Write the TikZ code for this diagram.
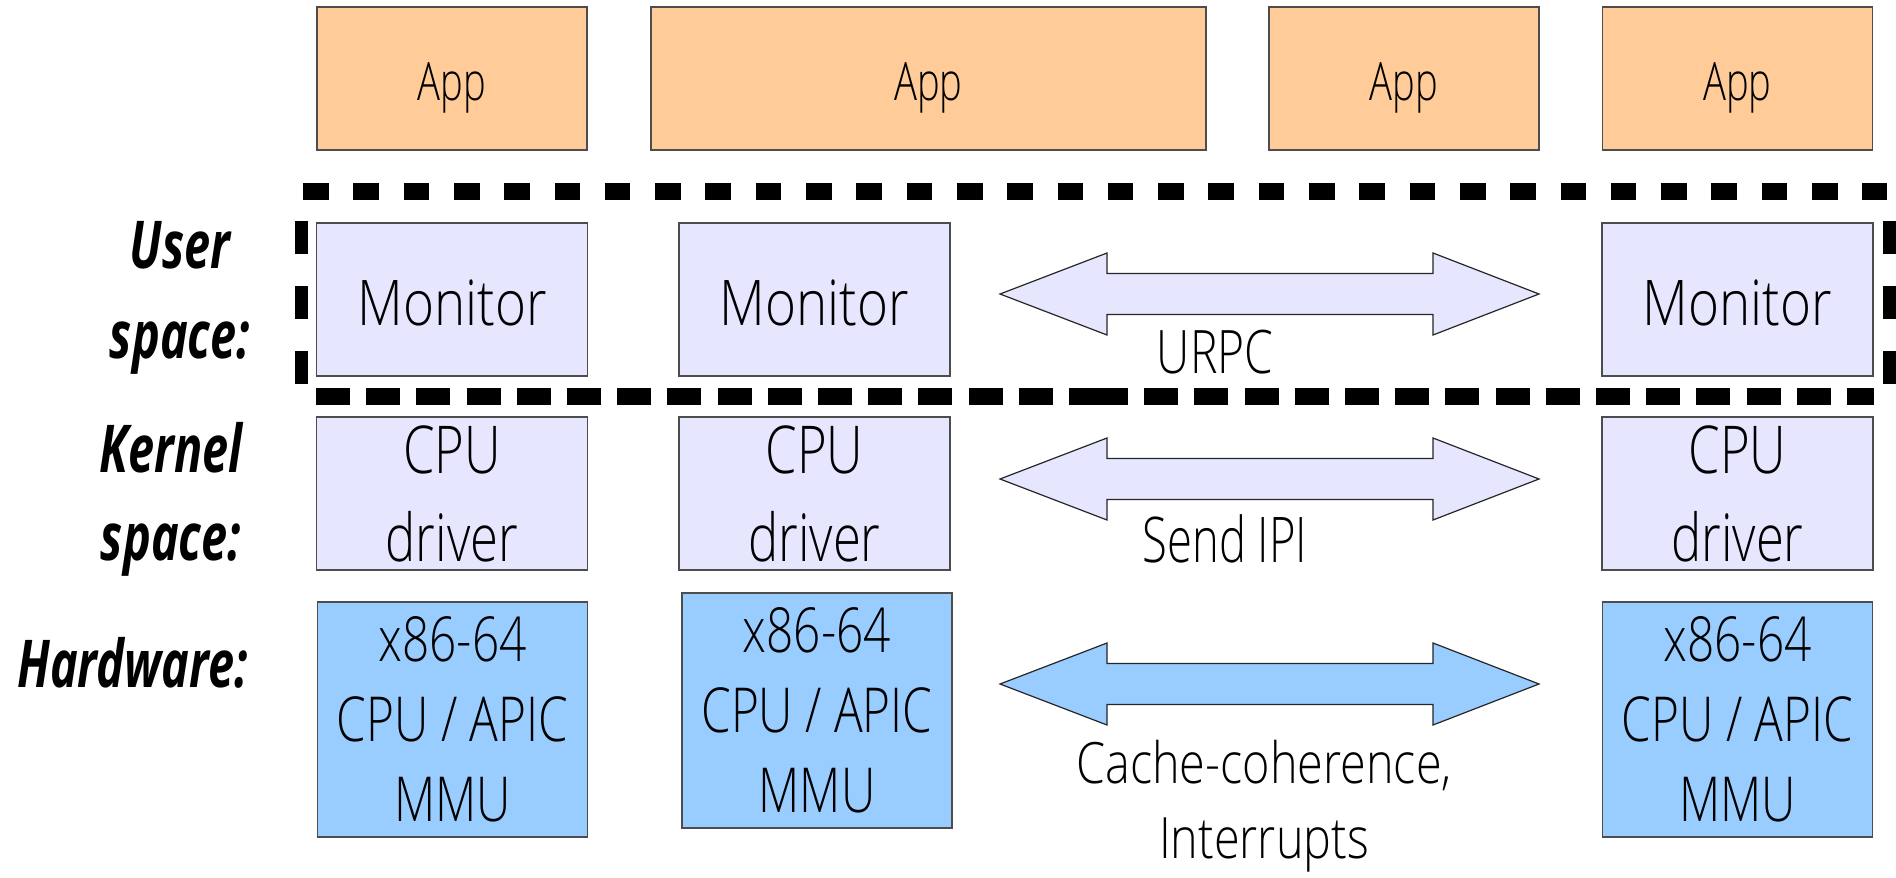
\documentclass[tikz,border=0pt]{standalone}
\usepackage{fontspec}
\setmainfont{Open Sans Light}[FakeStretch=0.77]
\newfontfamily\appfont{Open Sans Light}[FakeStretch=0.72]
\newfontfamily\monfont{Open Sans Light}[FakeStretch=0.84]
\newfontfamily\ipifont{Open Sans Light}[FakeStretch=0.72]
\newfontfamily\ccfont{Open Sans Light}[FakeStretch=0.82]
\newfontfamily\labfont{Open Sans}[FakeStretch=0.71]
\definecolor{appc}{HTML}{FFCC99}
\definecolor{monc}{HTML}{E6E6FF}
\definecolor{hwc}{HTML}{99CCFF}
\definecolor{edgec}{HTML}{4D4D4D}
\tikzset{
  box/.style={draw=edgec, line width=0.8pt, inner sep=0pt},
  appbox/.style={box, fill=appc, minimum width=135pt, minimum height=71.5pt,
    font=\appfont\fontsize{26.5}{32}\selectfont, text height=21.5pt, text depth=0pt},
  monbox/.style={box, fill=monc, minimum width=135.5pt, minimum height=76.5pt,
    font=\monfont\fontsize{31.5}{38}\selectfont, text height=25.5pt, text depth=0pt},
  cpubox/.style={box, fill=monc, align=center, minimum width=135.5pt, minimum height=76.5pt,
    font=\fontsize{33}{44}\selectfont},
  hwbox/.style={box, fill=hwc, align=center, minimum width=135pt, minimum height=117.5pt,
    font=\fontsize{31}{40}\selectfont},
  dblarrow/.style={draw=black!85, line width=0.6pt, line join=miter},
  lbl/.style={font=\labfont\bfseries\itshape\fontsize{33}{45}\selectfont, align=center, inner sep=0pt},
  arrlbl/.style={inner sep=0pt, align=center},
  hsep/.style={line width=8.6pt, black},
  vsep/.style={line width=6.3pt, black, dash pattern=on 16.5pt off 16pt},
}
\newcommand{\dblarr}[2]{%
  \filldraw[dblarrow, fill=#2] (1000,#1) -- (1107,#1-41) -- (1107,#1-20.5) -- (1433,#1-20.5)
    -- (1433,#1-41) -- (1539,#1) -- (1433,#1+41) -- (1433,#1+20.5) -- (1107,#1+20.5)
    -- (1107,#1+41) -- cycle;}
\begin{document}
\begin{tikzpicture}[x=0.5pt, y=-0.5pt]
\useasboundingbox (0,0) rectangle (1896,878);
\fill[white] (0,0) rectangle (1896,878);

% Apps
\node[appbox] (app1) at (452,78.5) {App};
\node[appbox, minimum width=277.5pt] (app2) at (928.5,78.5) {App};
\node[appbox] (app3) at (1404,78.5) {App};
\node[appbox] (app4) at (1737.5,78.5) {App};

% Monitors
\node[monbox] (mon1) at (452,299.5) {Monitor};
\node[monbox] (mon2) at (814.5,299.5) {Monitor};
\node[monbox] (mon4) at (1737.5,299.5) {Monitor};

% CPU drivers
\node[cpubox] (cpu1) at (452,493.5) {CPU\\driver};
\node[cpubox] (cpu2) at (814.5,493.5) {CPU\\driver};
\node[cpubox] (cpu4) at (1737.5,493.5) {CPU\\driver};

% Hardware
\node[hwbox] (hw1) at (452.5,719.5) {x86-64\\CPU / APIC\\MMU};
\node[hwbox] (hw2) at (817,710.5) {x86-64\\CPU / APIC\\MMU};
\node[hwbox] (hw4) at (1737.5,719.5) {x86-64\\CPU / APIC\\MMU};

% user-space dashed frame
\draw[hsep, dash pattern=on 12.8pt off 12.35pt] (303,191.5) -- (1887,191.5);
\draw[hsep, line width=8.8pt, dash pattern=on 17pt off 8.1pt] (316,396.5) -- (1103,396.5);
\draw[hsep, line width=8.8pt, dash pattern=on 17pt off 8.1pt] (1094,396.5) -- (1874,396.5);
\draw[vsep] (301.5,221) -- (301.5,384);
\draw[vsep] (1889.5,221) -- (1889.5,384);

% double arrows
\dblarr{294}{monc}
\dblarr{479}{monc}
\dblarr{684}{hwc}

% arrow labels
\node[arrlbl, font=\fontsize{30}{36}\selectfont, anchor=base] (urpc) at (1215,373) {URPC};
\node[arrlbl, font=\ipifont\fontsize{31.5}{38}\selectfont, anchor=base] (ipi) at (1225,562) {Send IPI};
\node[arrlbl, font=\ccfont\fontsize{28.5}{37.5}\selectfont] (cc) at (1264,806) {Cache-coherence,\\Interrupts};

% row labels
\node[lbl] (user) at (180,297.5) {User\\space:};
\node[lbl, font=\labfont\bfseries\itshape\fontsize{33}{44}\selectfont] (kern) at (171,499) {Kernel\\space:};
\node[lbl, anchor=base east] (hwl) at (248,687) {Hardware:};
\end{tikzpicture}
\end{document}
